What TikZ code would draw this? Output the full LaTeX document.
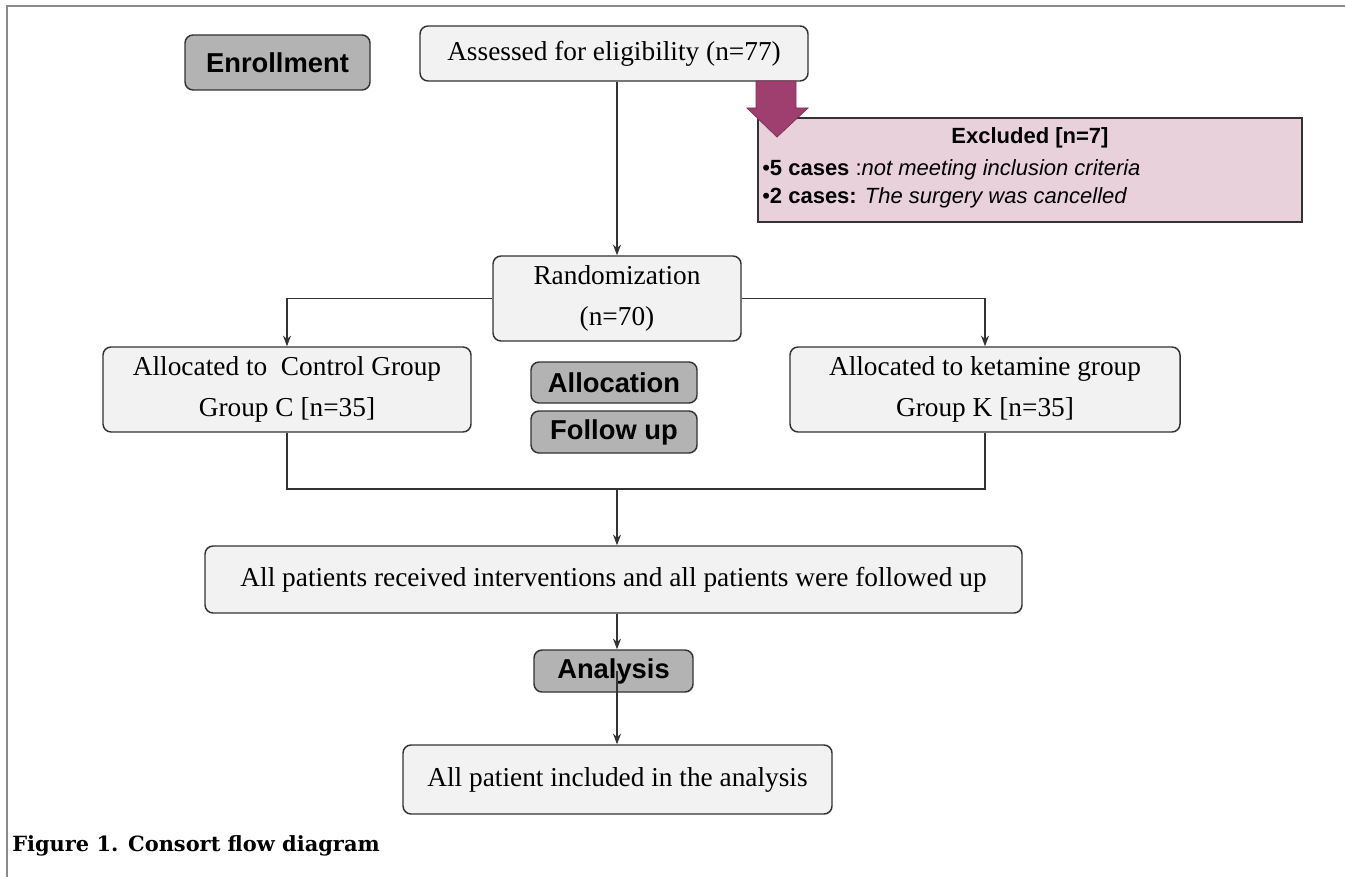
\documentclass[tikz,border=0pt]{standalone}
\usepackage{fontspec}
\setmainfont{Liberation Serif}
\setsansfont{Liberation Sans}
\newfontfamily\capfont{DejaVu Serif}
\usetikzlibrary{arrows.meta}
\definecolor{boxfill}{HTML}{F2F2F2}
\definecolor{boxline}{HTML}{333333}
\definecolor{stagefill}{HTML}{B3B3B3}
\definecolor{exfill}{HTML}{E9D1DC}
\definecolor{purp}{HTML}{9E3F70}
\definecolor{frame}{HTML}{8A8A8A}
\tikzset{
  flowbox/.style={draw=boxline, fill=boxfill, line width=1.1pt, rounded corners=6pt, align=center,
    inner sep=0pt, font=\fontsize{20.5}{30.75}\selectfont},
  stagebox/.style={draw=boxline, fill=stagefill, line width=1.1pt, rounded corners=6pt, inner sep=0pt,
    font=\sffamily\bfseries\fontsize{20.5}{24}\selectfont},
  conn/.style={draw=boxline, line width=0.9pt},
  arr/.style={conn, -{Stealth[length=8pt,width=6pt]}},
  extext/.style={inner sep=0pt, font=\sffamily\fontsize{16.5}{20}\selectfont}
}
\begin{document}
\begin{tikzpicture}[x=0.75pt,y=-0.75pt]
\useasboundingbox (0,0) rectangle (1345,877);
% frame
\draw[frame, line width=1.6pt] (7,877) -- (7,6) -- (1345,6);
% stage labels
\node[stagebox, minimum width=138.75pt, minimum height=41.25pt] (enroll) at (277.5,62.5) {Enrollment};
\node[stagebox, minimum width=124.5pt, minimum height=30.75pt] (alloc) at (614,382.5) {Allocation};
\node[stagebox, minimum width=124.5pt, minimum height=31.5pt] (follow) at (614,432) {Follow up};
% flow boxes
\node[flowbox, minimum width=291pt, minimum height=41.25pt] (assess) at (614,53.5) {Assessed for eligibility (n=77)};
\node[draw=boxline, fill=exfill, line width=1.1pt, minimum width=408pt, minimum height=78pt, inner sep=0pt] (excl) at (1030,170) {};
\node[extext, font=\sffamily\bfseries\fontsize{16.5}{20}\selectfont] (extitle) at (1030,138) {Excluded [n=7]};
\node[extext, anchor=west] (ex1) at (762,170) {•\textbf{5 cases} :\textit{not meeting inclusion criteria}};
\node[extext, anchor=west] (ex2) at (762,198) {•\textbf{2 cases:} \textit{The surgery was cancelled}};
\node[flowbox, minimum width=186pt, minimum height=63.75pt] (rand) at (617,298.5) {Randomization\\(n=70)};
\node[flowbox, minimum width=276pt, minimum height=63.75pt] (ctrl) at (287,389.5) {Allocated to\ \ Control Group\\Group C [n=35]};
\node[flowbox, minimum width=292.5pt, minimum height=63.75pt] (keta) at (985,389.5) {Allocated to ketamine group\\Group K [n=35]};
\node[flowbox, minimum width=612.75pt, minimum height=50.25pt] (allp) at (613.5,579.5) {All patients received interventions and all patients were followed up};
\node[stagebox, minimum width=119.25pt, minimum height=31.5pt] (anal) at (613.5,671) {Analysis};
\node[flowbox, minimum width=321.75pt, minimum height=51.75pt] (final) at (617.5,779.5) {All patient included in the analysis};
% purple arrow
\draw[fill=purp, draw=purp!80!black, line width=0.6pt] (756,81) -- (796,81) -- (796,108) -- (808,108) -- (777,137) -- (747,108) -- (756,108) -- cycle;
% connectors
\coordinate (j) at (617,489);
\draw[arr] (assess.south -| rand.north) -- (rand.north);
\draw[arr] (rand.west) -| (ctrl.north);
\draw[arr] (rand.east) -| (keta.north);
\draw[conn] (ctrl.south) -- (ctrl.south |- j) -- (keta.south |- j) -- (keta.south);
\draw[arr] (j) -- (j |- allp.north);
\draw[arr] (allp.south -| j) -- (anal.north -| j);
\draw[arr] (anal.center -| j) -- (final.north -| j);
% caption
\node[anchor=west, inner sep=0pt, font=\capfont\bfseries\fontsize{15.7}{18}\selectfont] (cap) at (12,846) {Figure 1. Consort flow diagram};
\end{tikzpicture}
\end{document}
